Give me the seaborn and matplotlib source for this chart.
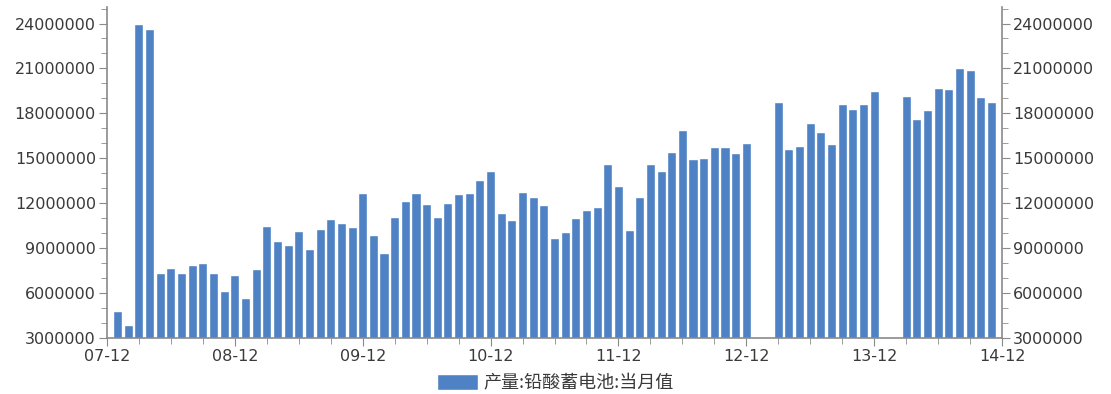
import numpy as np
import pandas as pd
import matplotlib
matplotlib.use("Agg")
import matplotlib.pyplot as plt
import seaborn as sns
from matplotlib.ticker import MultipleLocator
from matplotlib.patches import Patch

# ---- data ----
months = [str(p) for p in pd.period_range("2008-01", "2014-11", freq="M")]
values = [
    4850000, 3900000, 24000000, 23650000, 7370000, 7690000, 7370000, 7870000, 8020000, 7370000, 6170000, 7240000,
    5670000, 7600000, 10490000, 9510000, 9220000, 10170000, 8930000, 10310000, 10950000, 10710000, 10400000, 12710000,
    9890000, 8670000, 11110000, 12150000, 12710000, 11950000, 11070000, 12040000, 12600000, 12710000, 13530000, 14150000,
    11380000, 10890000, 12730000, 12420000, 11870000, 9670000, 10070000, 11000000, 11570000, 11750000, 14620000, 13130000,
    10240000, 12420000, 14620000, 14180000, 15400000, 16890000, 14930000, 15040000, 15770000, 15770000, 15330000, 16000000,
    None, None, 18730000, 15620000, 15820000, 17330000, 16730000, 15930000, 18600000, 18310000, 18620000, 19470000,
    None, None, 19150000, 17620000, 18220000, 19670000, 19600000, 21000000, 20890000, 19110000, 18770000,
]
tick_labels = ["07-12", "08-12", "09-12", "10-12", "11-12", "12-12", "13-12", "14-12"]
y_ticks = [3000000, 6000000, 9000000, 12000000, 15000000, 18000000, 21000000, 24000000]
legend_label = "产量:铅酸蓄电池:当月值"

# month index relative to 2007-12
pos = [(int(m[:4]) - 2007) * 12 + int(m[5:]) - 12 for m in months]
df = pd.DataFrame({"pos": pos, "value": values}).dropna()

sns.set_style("ticks")
plt.rcParams['font.family'] = ['DejaVu Sans', 'Noto Sans CJK SC']

bar_color = "#4F82C4"
fig = plt.figure(figsize=(11.11, 3.94), dpi=100)
ax = fig.add_axes([0.0963, 0.1414, 0.8056, 0.8408])

sns.barplot(data=df, x="pos", y="value", native_scale=True, color=bar_color,
            saturation=1, width=0.85, ax=ax)

ax.set_xlim(0, 84)
ax.set_ylim(3000000, 25100000)
ax.set_xticks(range(0, 85, 12))
ax.set_xticklabels(tick_labels)
ax.xaxis.set_minor_locator(MultipleLocator(3))
ax.set_yticks(y_ticks)
ax.set_yticklabels([str(v) for v in y_ticks])
ax.yaxis.set_minor_locator(MultipleLocator(1000000))
ax.set_xlabel("")
ax.set_ylabel("")

ax.tick_params(axis='y', which='both', left=True, right=True, labelleft=True, labelright=True,
               direction='out', color='#8a8a8a')
ax.tick_params(axis='y', which='major', length=6, labelsize=11.5, labelcolor='#3a3a3a', pad=2)
ax.tick_params(axis='y', which='minor', length=4)
ax.tick_params(axis='x', which='both', direction='out', color='#8a8a8a')
ax.tick_params(axis='x', which='major', length=6, labelsize=11.5, labelcolor='#3a3a3a', pad=2)
ax.tick_params(axis='x', which='minor', length=4)

ax.spines['top'].set_visible(False)
for s in ['left', 'right', 'bottom']:
    ax.spines[s].set_visible(True)
    ax.spines[s].set_color('#8a8a8a')
    ax.spines[s].set_linewidth(1.2)

leg = fig.legend(handles=[Patch(facecolor=bar_color)], labels=[legend_label],
                 loc='center', bbox_to_anchor=(0.5, 1 - 383 / 394), frameon=False,
                 handlelength=2.3, handleheight=1.0, handletextpad=0.3,
                 prop={'family': ['Noto Sans CJK SC', 'DejaVu Sans'], 'size': 13})
for t in leg.get_texts():
    t.set_color('#3a3a3a')

fig.savefig("out.png", dpi=100)
